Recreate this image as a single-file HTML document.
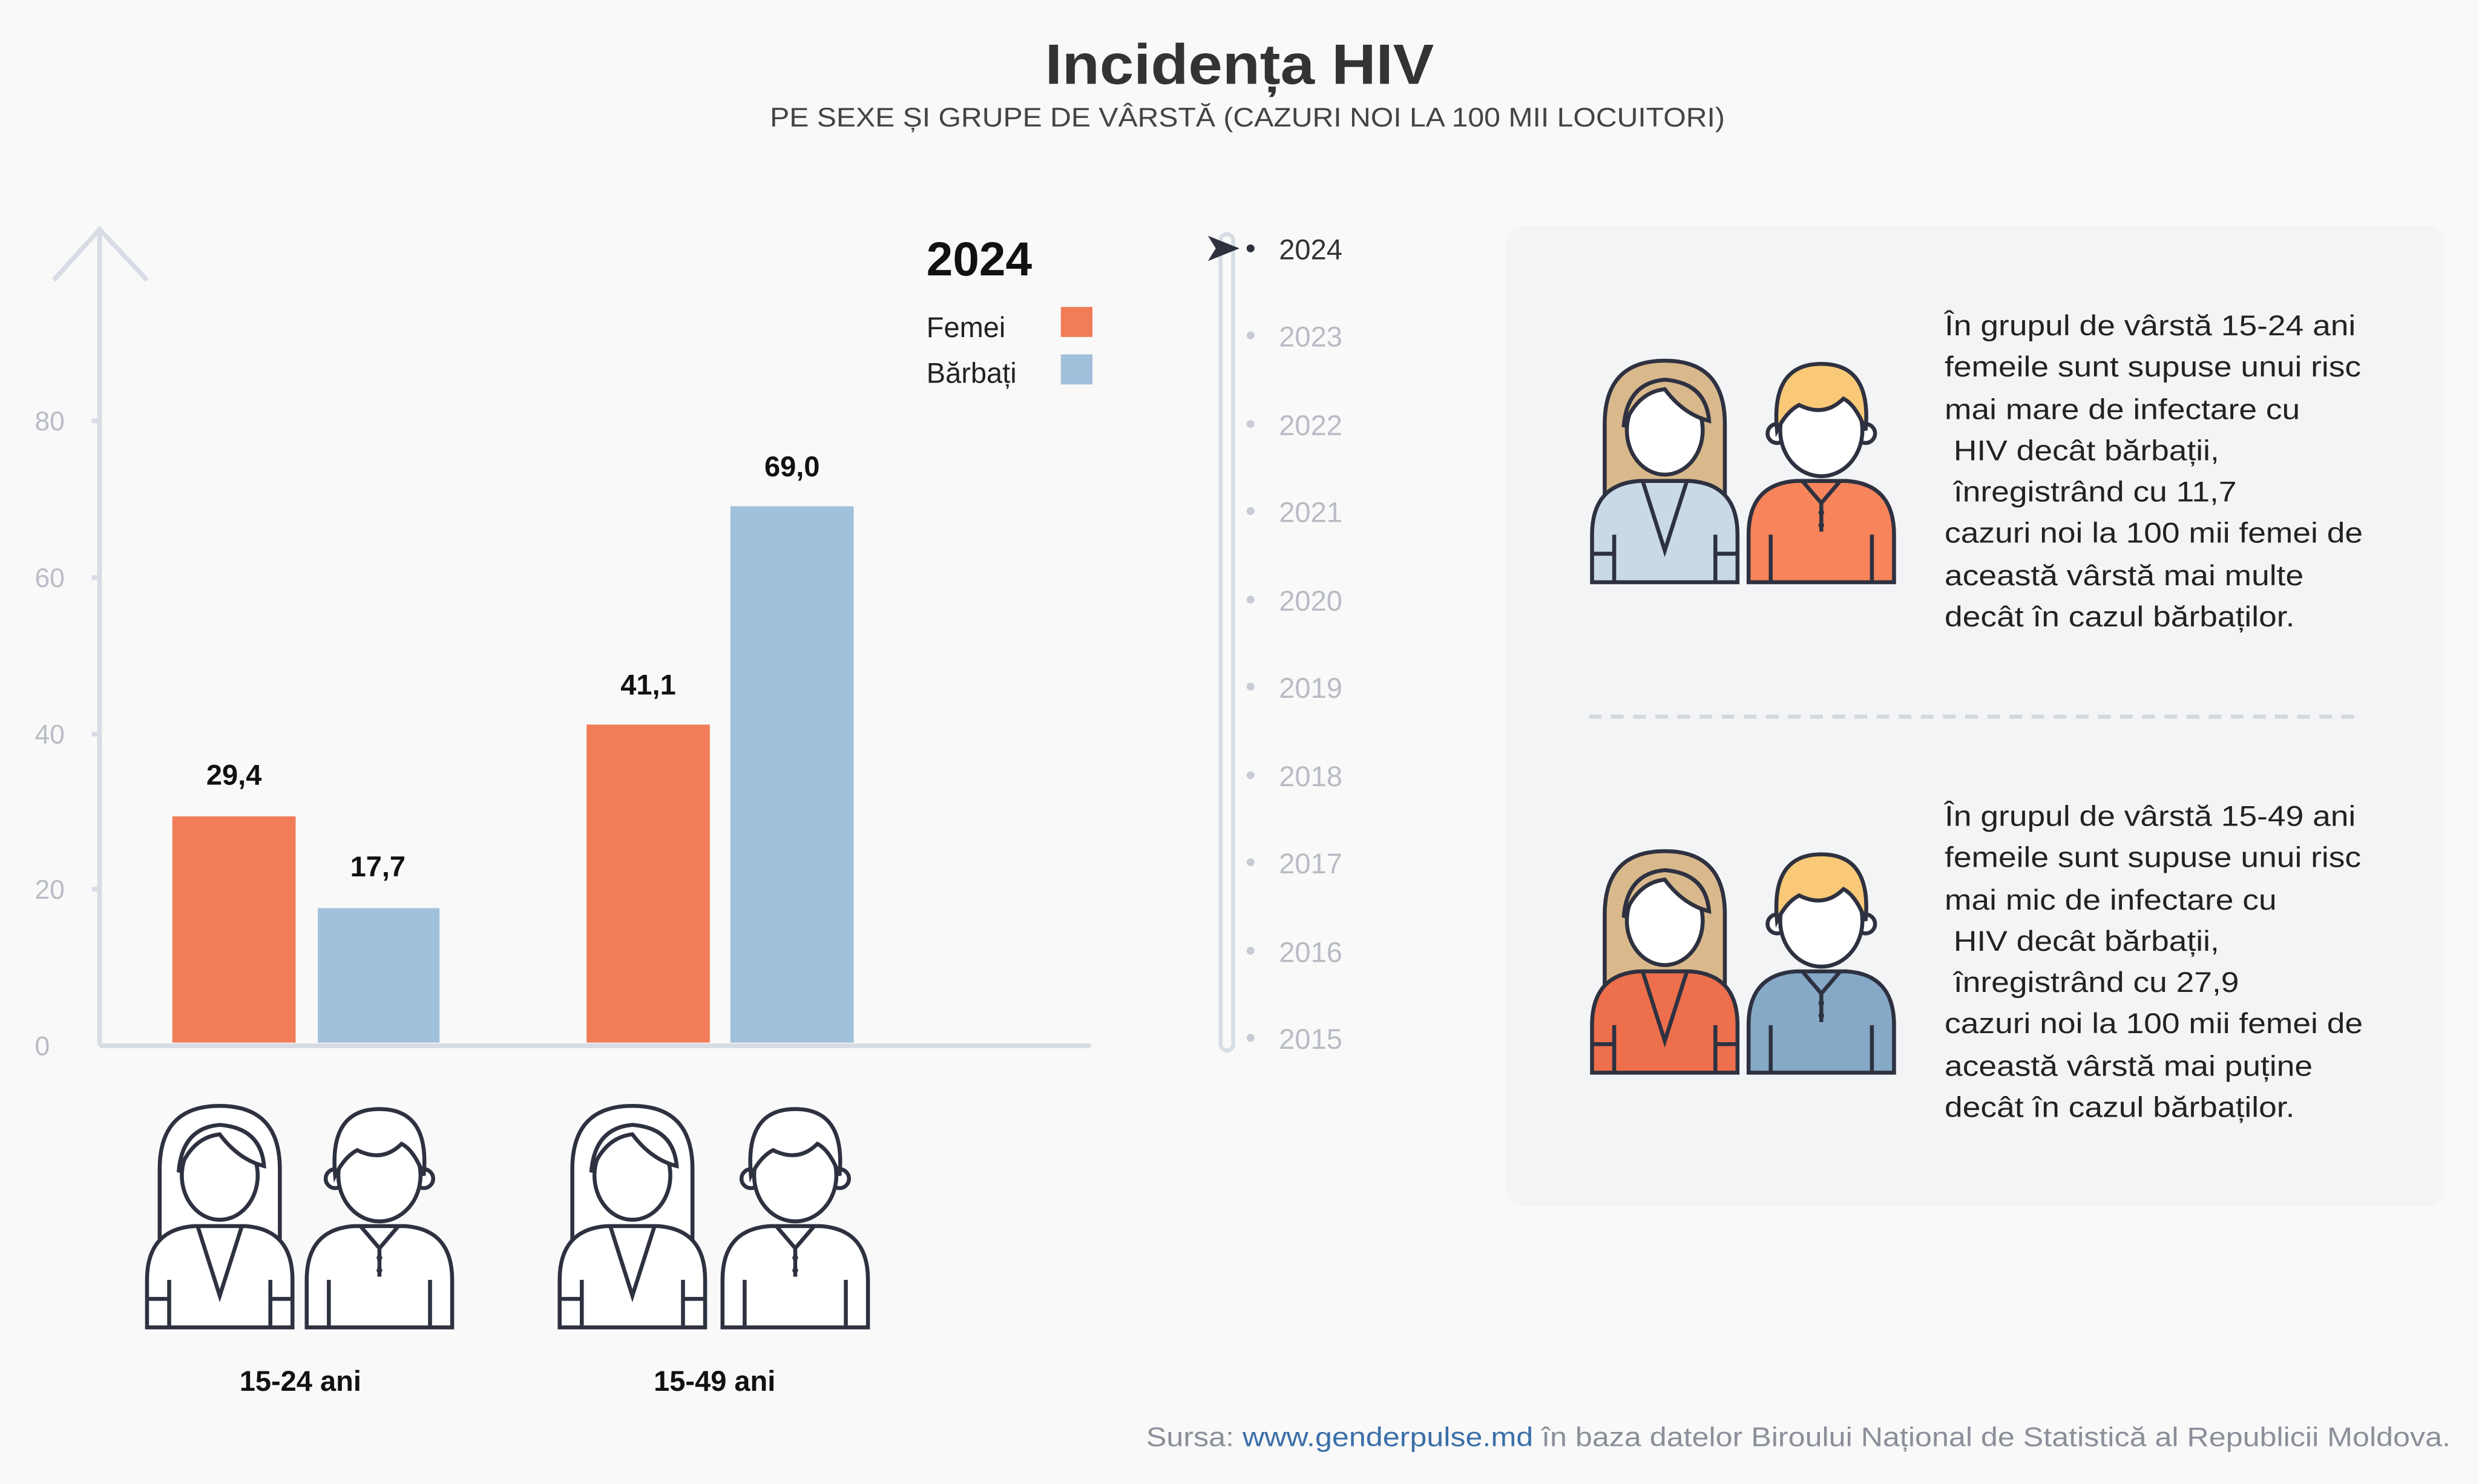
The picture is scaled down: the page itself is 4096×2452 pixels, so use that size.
<!DOCTYPE html>
<html><head><meta charset="utf-8"><style>
html,body{margin:0;padding:0;background:#f9f9f9;}
svg{display:block;}
text{font-family:"Liberation Sans",sans-serif;}
</style></head><body>
<svg width="4096" height="2452" viewBox="0 0 1568 938" preserveAspectRatio="none" xmlns="http://www.w3.org/2000/svg">
<defs>
<g id="woman">
  <path d="M10,92 V42 Q10,2 48,2 Q86,2 86,42 V92 Z" fill="var(--hair)" stroke="#2e3140" stroke-width="2.5"/>
  <path d="M2,142 V112 Q2,80 32,78 H64 Q94,80 94,112 V142 Z" fill="var(--body)" stroke="#2e3140" stroke-width="2.5"/>
  <path d="M34,78 L48,122 L62,78" fill="none" stroke="#2e3140" stroke-width="2.5"/>
  <path d="M2,124 H16 M16,112 V142 M80,112 V142 M80,124 H94" stroke="#2e3140" stroke-width="2.5" fill="none"/>
  <ellipse cx="48" cy="46" rx="24" ry="28" fill="#fff" stroke="#2e3140" stroke-width="2.5"/>
  <path d="M22,44 Q30,22 48,20 Q60,36 76,40 Q74,16 48,14 Q24,16 22,44 Z" fill="var(--hair)" stroke="#2e3140" stroke-width="2.5"/>
</g>
<g id="man">
  <path d="M2,142 V112 Q2,80 32,78 H64 Q94,80 94,112 V142 Z" fill="var(--body)" stroke="#2e3140" stroke-width="2.5"/>
  <path d="M36,78 L48,92 L60,78 M48,92 V110" fill="none" stroke="#2e3140" stroke-width="2.5"/>
  <circle cx="48" cy="98" r="1.8" fill="#2e3140"/><circle cx="48" cy="106" r="1.8" fill="#2e3140"/>
  <path d="M16,112 V142 M80,112 V142" stroke="#2e3140" stroke-width="2.5"/>
  <circle cx="20" cy="48" r="6" fill="#fff" stroke="#2e3140" stroke-width="2.5"/>
  <circle cx="76" cy="48" r="6" fill="#fff" stroke="#2e3140" stroke-width="2.5"/>
  <ellipse cx="48" cy="46" rx="26" ry="29" fill="#fff" stroke="#2e3140" stroke-width="2.5"/>
  <path d="M20,46 Q16,4 48,4 Q80,4 76,46 Q70,30 62,26 Q50,38 34,30 Q26,34 20,46 Z" fill="var(--hair)" stroke="#2e3140" stroke-width="2.5"/>
</g>
</defs>
<rect width="1568" height="938" fill="#f9f9f9"/>
<rect x="953" y="143" width="593" height="619" rx="10" fill="#f3f4f6"/>
<text x="661" y="53" font-size="36" font-weight="bold" fill="#333" textLength="246" lengthAdjust="spacingAndGlyphs">Incidența HIV</text>
<text x="487" y="80" font-size="17" fill="#444" textLength="604" lengthAdjust="spacingAndGlyphs">PE SEXE ȘI GRUPE DE VÂRSTĂ (CAZURI NOI LA 100 MII LOCUITORI)</text>
<g stroke="#d8dde5" stroke-width="3" fill="none">
<path d="M63,661 V145 M34,177 L63,145 L93,177 M63,661 H690"/>
<path d="M58,266 H63 M58,365 H63 M58,464 H63 M58,562 H63"/>
</g>
<g font-size="17" fill="#b8bcc4">
<text x="22" y="272">80</text><text x="22" y="371">60</text><text x="22" y="470">40</text><text x="22" y="568">20</text><text x="22" y="667">0</text>
</g>
<rect x="109" y="516" width="78" height="143" fill="#f07d58"/>
<rect x="201" y="574" width="77" height="85" fill="#a0c0dc"/>
<rect x="371" y="458" width="78" height="201" fill="#f07d58"/>
<rect x="462" y="320" width="78" height="339" fill="#a0c0dc"/>
<g font-size="18" font-weight="bold" fill="#111" text-anchor="middle">
<text x="148" y="496">29,4</text><text x="239" y="554">17,7</text><text x="410" y="439">41,1</text><text x="501" y="301">69,0</text>
</g>
<text x="586" y="174" font-size="30" font-weight="bold" fill="#111">2024</text>
<text x="586" y="213" font-size="18" fill="#222">Femei</text><rect x="671" y="194" width="20" height="19" fill="#f07d58"/>
<text x="586" y="242" font-size="18" fill="#222">Bărbați</text><rect x="671" y="224" width="20" height="19" fill="#a0c0dc"/>
<rect x="772" y="148" width="8" height="516" rx="4" fill="#f9f9f9" stroke="#d8dde5" stroke-width="2.5"/>
<path d="M764,149 L784,157 L764,165 L769,157 Z" fill="#2e3140"/>
<g font-size="18" fill="#b8bcc4">
<text x="809" y="164" fill="#333">2024</text>
<text x="809" y="219">2023</text><text x="809" y="275">2022</text><text x="809" y="330">2021</text><text x="809" y="386">2020</text>
<text x="809" y="441">2019</text><text x="809" y="497">2018</text><text x="809" y="552">2017</text><text x="809" y="608">2016</text><text x="809" y="663">2015</text>
</g>
<g fill="#c8ccd4">
<circle cx="791" cy="157" r="2.5" fill="#2e3140"/><circle cx="791" cy="212" r="2.5"/><circle cx="791" cy="268" r="2.5"/><circle cx="791" cy="323" r="2.5"/><circle cx="791" cy="379" r="2.5"/><circle cx="791" cy="434" r="2.5"/><circle cx="791" cy="490" r="2.5"/><circle cx="791" cy="545" r="2.5"/><circle cx="791" cy="601" r="2.5"/><circle cx="791" cy="656" r="2.5"/>
</g>
<use href="#woman" x="91" y="697" style="--hair:#fff;--body:#fff"/>
<use href="#man" x="192" y="697" style="--hair:#fff;--body:#fff"/>
<use href="#woman" x="352" y="697" style="--hair:#fff;--body:#fff"/>
<use href="#man" x="455" y="697" style="--hair:#fff;--body:#fff"/>
<text x="190" y="879" text-anchor="middle" font-size="18" font-weight="bold" fill="#111">15-24 ani</text>
<text x="452" y="879" text-anchor="middle" font-size="18" font-weight="bold" fill="#111">15-49 ani</text>
<use href="#woman" x="1005" y="226" style="--hair:#d9b98c;--body:#c9d9e8"/>
<use href="#man" x="1104" y="226" style="--hair:#f9c978;--body:#f7845a"/>
<use href="#woman" x="1005" y="536" style="--hair:#d9b98c;--body:#ed6f4c"/>
<use href="#man" x="1104" y="536" style="--hair:#f9c978;--body:#85a9c7"/>
<path d="M1005,453 H1495" stroke="#d4d8de" stroke-width="2.5" stroke-dasharray="8,6"/>
<g font-size="18" fill="#222" transform="translate(1230,0) scale(1.135,1) translate(-1230,0)">
<text x="1230" y="212">În grupul de vârstă 15-24 ani</text>
<text x="1230" y="238">femeile sunt supuse unui risc</text>
<text x="1230" y="265">mai mare de infectare cu</text>
<text x="1235" y="291">HIV decât bărbații,</text>
<text x="1235" y="317">înregistrând cu 11,7</text>
<text x="1230" y="343">cazuri noi la 100 mii femei de</text>
<text x="1230" y="370">această vârstă mai multe</text>
<text x="1230" y="396">decât în cazul bărbaților.</text>
<text x="1230" y="522">În grupul de vârstă 15-49 ani</text>
<text x="1230" y="548">femeile sunt supuse unui risc</text>
<text x="1230" y="575">mai mic de infectare cu</text>
<text x="1235" y="601">HIV decât bărbații,</text>
<text x="1235" y="627">înregistrând cu 27,9</text>
<text x="1230" y="653">cazuri noi la 100 mii femei de</text>
<text x="1230" y="680">această vârstă mai puține</text>
<text x="1230" y="706">decât în cazul bărbaților.</text>
</g>
<text x="725" y="914" font-size="17" fill="#8a8f99" textLength="825" lengthAdjust="spacingAndGlyphs">Sursa: <tspan fill="#3a6fa8">www.genderpulse.md</tspan> în baza datelor Biroului Național de Statistică al Republicii Moldova.</text>
</svg>
</body></html>
